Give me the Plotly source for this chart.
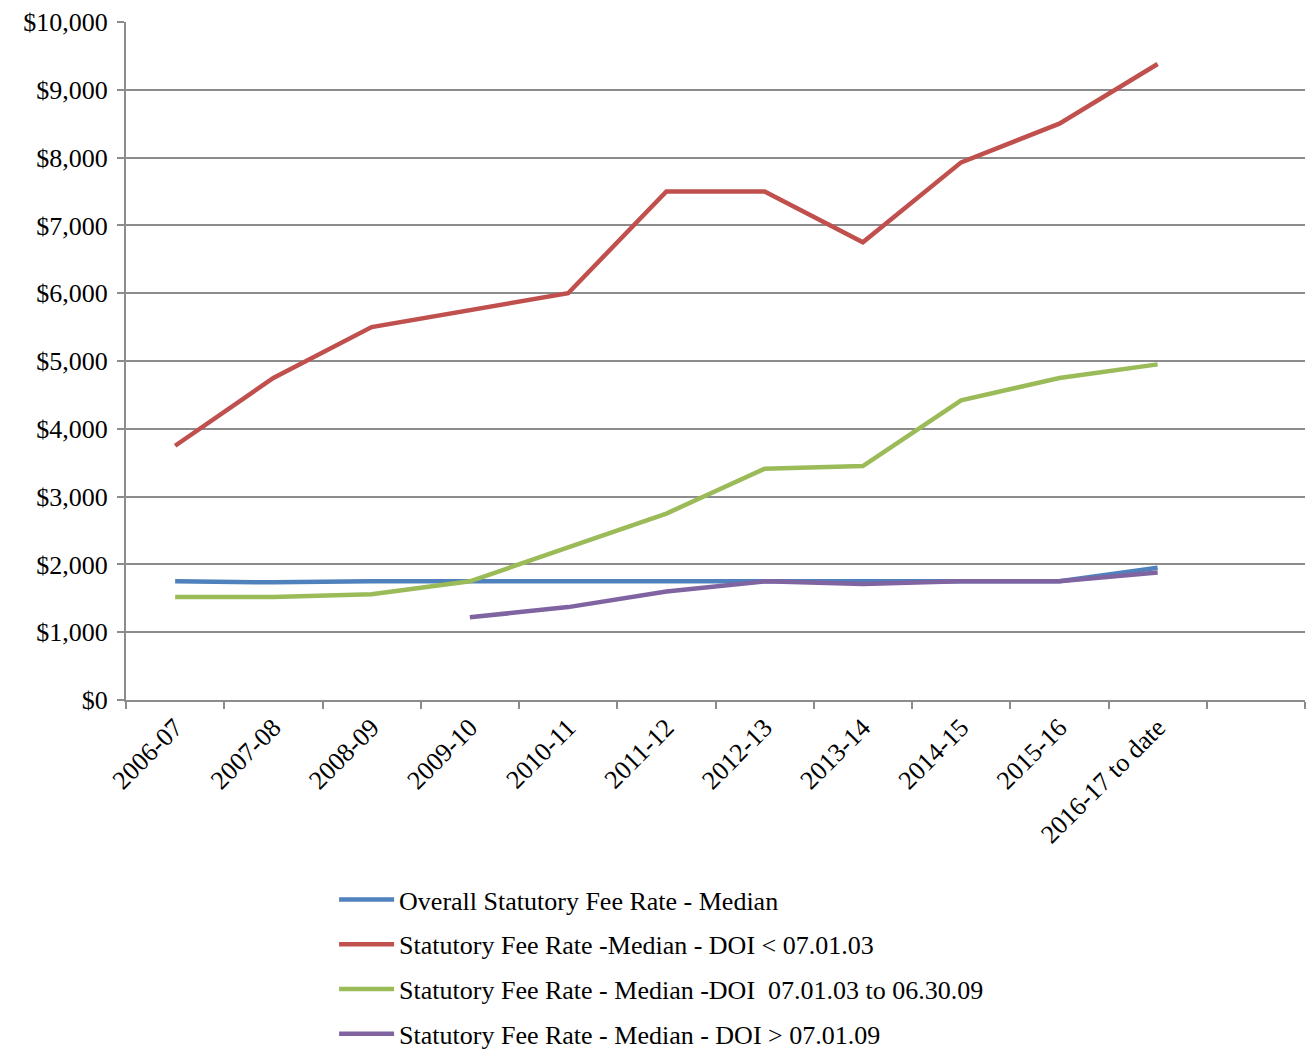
import plotly.graph_objects as go

categories = ["2006-07", "2007-08", "2008-09", "2009-10", "2010-11", "2011-12",
              "2012-13", "2013-14", "2014-15", "2015-16", "2016-17 to date"]
overall = [1750, 1735, 1750, 1750, 1750, 1750, 1750, 1750, 1750, 1750, 1950]
doi_pre03 = [3750, 4750, 5500, 5750, 6000, 7500, 7500, 6750, 7930, 8500, 9380]
doi_03_09 = [1520, 1520, 1560, 1750, 2250, 2750, 3410, 3450, 4420, 4750, 4950]
doi_post09 = [None, None, None, 1220, 1370, 1600, 1750, 1710, 1750, 1750, 1880]
y_ticks = list(range(0, 10001, 1000))
names = ["Overall Statutory Fee Rate - Median",
         "Statutory Fee Rate -Median - DOI < 07.01.03",
         "Statutory Fee Rate - Median -DOI  07.01.03 to 06.30.09",
         "Statutory Fee Rate - Median - DOI > 07.01.09"]
colors = ["#4F81BD", "#C0504D", "#9BBB59", "#8064A2"]

xs = list(range(len(categories)))
fig = go.Figure()
for i, (nm, ys, c) in enumerate(zip(names, [overall, doi_pre03, doi_03_09, doi_post09], colors)):
    fig.add_trace(go.Scatter(x=xs, y=ys, name=nm, mode="lines",
                             line=dict(color=c, width=4.5), legendgroup=f"g{i}",
                             connectgaps=False))

grid = "#8C8C8C"
font = dict(family="Liberation Serif, Times New Roman, serif", size=26, color="black")
fig.update_layout(
    width=1307, height=1053,
    margin=dict(l=126, r=2, t=22, b=353, autoexpand=False),
    paper_bgcolor="white", plot_bgcolor="white",
    font=font,
    showlegend=True,
    legend=dict(x=0.1765, y=1 - 876 / 1053, yref="container", xanchor="left", yanchor="top",
                orientation="v", tracegroupgap=8, font=font, itemwidth=55,
                bgcolor="rgba(0,0,0,0)"),
    xaxis=dict(range=[-0.5, len(categories) + 0.5], tickmode="array",
               tickvals=xs, ticktext=categories, tickangle=-45,
               ticks="", showgrid=False, zeroline=False, automargin=False,
               showline=True, linecolor=grid, linewidth=2,
               minor=dict(tickmode="array",
                          tickvals=[k - 0.5 for k in range(len(categories) + 2)],
                          ticks="outside", ticklen=7, tickcolor=grid, tickwidth=2,
                          showgrid=False),
               tickfont=font),
    yaxis=dict(range=[0, 10000], tickmode="array", tickvals=y_ticks,
               ticktext=[f"${v:,}" for v in y_ticks], automargin=False,
               ticks="outside", ticklen=7, tickcolor=grid, tickwidth=2,
               showgrid=True, gridcolor=grid, gridwidth=2, zeroline=False,
               showline=True, linecolor=grid, linewidth=2,
               ticklabelstandoff=4, tickfont=font),
)
fig.write_html("out.html")
